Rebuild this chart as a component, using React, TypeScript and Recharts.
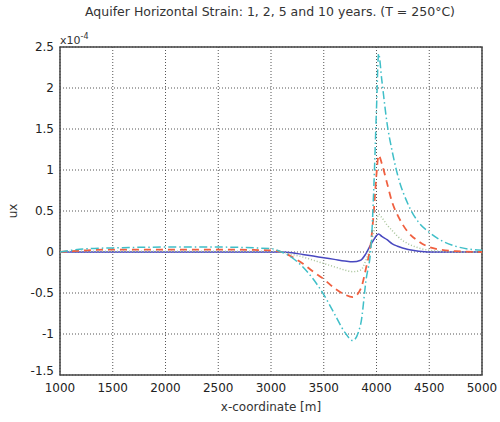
import {
  LineChart,
  Line,
  XAxis,
  YAxis,
  CartesianGrid,
  ReferenceArea,
} from 'recharts';

// x positions (m), shared by all four curves
const xCoord = [
  1000, 1250, 1500, 2000, 2500, 3000, 3100, 3200, 3300, 3400, 3500, 3600, 3700, 3775, 3850,
  3900, 3950, 3975, 4000, 4020, 4050, 4100, 4150, 4200, 4300, 4400, 4500, 4600, 4750, 5000,
];

// strain values in units of 1e-4
const year1 = [
  0, 0, 0, 0, 0, 0, 0, -0.01, -0.03, -0.05, -0.07, -0.09, -0.11, -0.12, -0.1,
  -0.02, 0.1, 0.15, 0.2, 0.22, 0.19, 0.15, 0.1, 0.07, 0.03, 0.01, 0, 0, 0, 0,
];
const year2 = [
  0, 0.01, 0.01, 0.01, 0.01, 0.01, 0, -0.03, -0.06, -0.1, -0.14, -0.18, -0.22, -0.24, -0.22,
  -0.1, 0.1, 0.25, 0.38, 0.46, 0.42, 0.33, 0.26, 0.19, 0.1, 0.05, 0.02, 0.01, 0, 0,
];
const year5 = [
  0, 0.02, 0.03, 0.03, 0.03, 0.02, 0, -0.06, -0.14, -0.24, -0.33, -0.44, -0.52, -0.55, -0.45,
  -0.2, 0.15, 0.5, 0.95, 1.18, 1.08, 0.84, 0.6, 0.45, 0.24, 0.13, 0.06, 0.03, 0.01, 0,
];
const year10 = [
  0, 0.04, 0.05, 0.06, 0.06, 0.04, 0, -0.07, -0.18, -0.33, -0.52, -0.75, -0.98, -1.08, -0.88,
  -0.35, 0.1, 0.8, 1.75, 2.42, 2.1, 1.57, 1.22, 0.94, 0.58, 0.36, 0.24, 0.15, 0.07, 0.02,
];

const xTicks = [1000, 1500, 2000, 2500, 3000, 3500, 4000, 4500, 5000];
const yTicks = [-1.5, -1, -0.5, 0, 0.5, 1, 1.5, 2, 2.5];

const data = xCoord.map((x, i) => ({
  x,
  y1: year1[i],
  y2: year2[i],
  y5: year5[i],
  y10: year10[i],
}));

const font = '"DejaVu Sans", sans-serif';
const tickStyle = { fontSize: 12, fill: '#222', fontFamily: font };

// y tick: the bottom label sits a little higher, as in the original
const YTick = (props: any) => {
  const { x, y, payload } = props;
  const shift = payload.value === -1.5 ? -4 : 0;
  return (
    <text x={x} y={y + shift} dy="0.355em" textAnchor="end" {...tickStyle}>
      {payload.value}
    </text>
  );
};

export default function App() {
  return (
    <div style={{ position: 'absolute', left: 0, top: 0, width: 500, height: 422, background: '#fff' }}>
      <LineChart width={500} height={422} data={data} margin={{ top: 47, right: 18, bottom: 0, left: 0 }}>
        <CartesianGrid stroke="#555" strokeDasharray="1 2" />
        <XAxis
          dataKey="x"
          type="number"
          domain={[1000, 5000]}
          ticks={xTicks}
          tick={tickStyle}
          tickSize={0}
          tickMargin={8}
          axisLine={false}
          height={47}
        />
        <YAxis
          type="number"
          domain={[-1.5, 2.5]}
          ticks={yTicks}
          tick={<YTick />}
          tickSize={0}
          tickMargin={6}
          axisLine={false}
          width={60}
        />
        <ReferenceArea x1={1000} x2={5000} y1={-1.5} y2={2.5} fill="none" stroke="#444" strokeWidth={1.5} ifOverflow="visible" />
        <Line type="monotone" dataKey="y1" stroke="#4848c0" strokeWidth={1.5} dot={false} isAnimationActive={false} />
        <Line type="monotone" dataKey="y2" stroke="#a8c49a" strokeWidth={1.5} strokeDasharray="1 2" dot={false} isAnimationActive={false} />
        <Line type="monotone" dataKey="y5" stroke="#f06040" strokeWidth={1.8} strokeDasharray="7 5" dot={false} isAnimationActive={false} />
        <Line type="monotone" dataKey="y10" stroke="#3fbfc8" strokeWidth={1.5} strokeDasharray="8 3 1.5 3" dot={false} isAnimationActive={false} />
      </LineChart>
      <div style={{ position: 'absolute', left: 0, width: 540, top: 4, textAlign: 'center', fontFamily: font, fontSize: 12.5, color: '#333' }}>
        Aquifer Horizontal Strain: 1, 2, 5 and 10 years. (T = 250°C)
      </div>
      <div style={{ position: 'absolute', left: 60, top: 32, fontFamily: font, fontSize: 11, color: '#333' }}>
        x10<sup style={{ fontSize: 8 }}>-4</sup>
      </div>
      <div style={{ position: 'absolute', left: 6, top: 204, transform: 'rotate(-90deg)', fontFamily: font, fontSize: 12, color: '#333' }}>
        ux
      </div>
      <div style={{ position: 'absolute', left: 0, width: 542, top: 400, textAlign: 'center', fontFamily: font, fontSize: 12, color: '#333' }}>
        x-coordinate [m]
      </div>
    </div>
  );
}
